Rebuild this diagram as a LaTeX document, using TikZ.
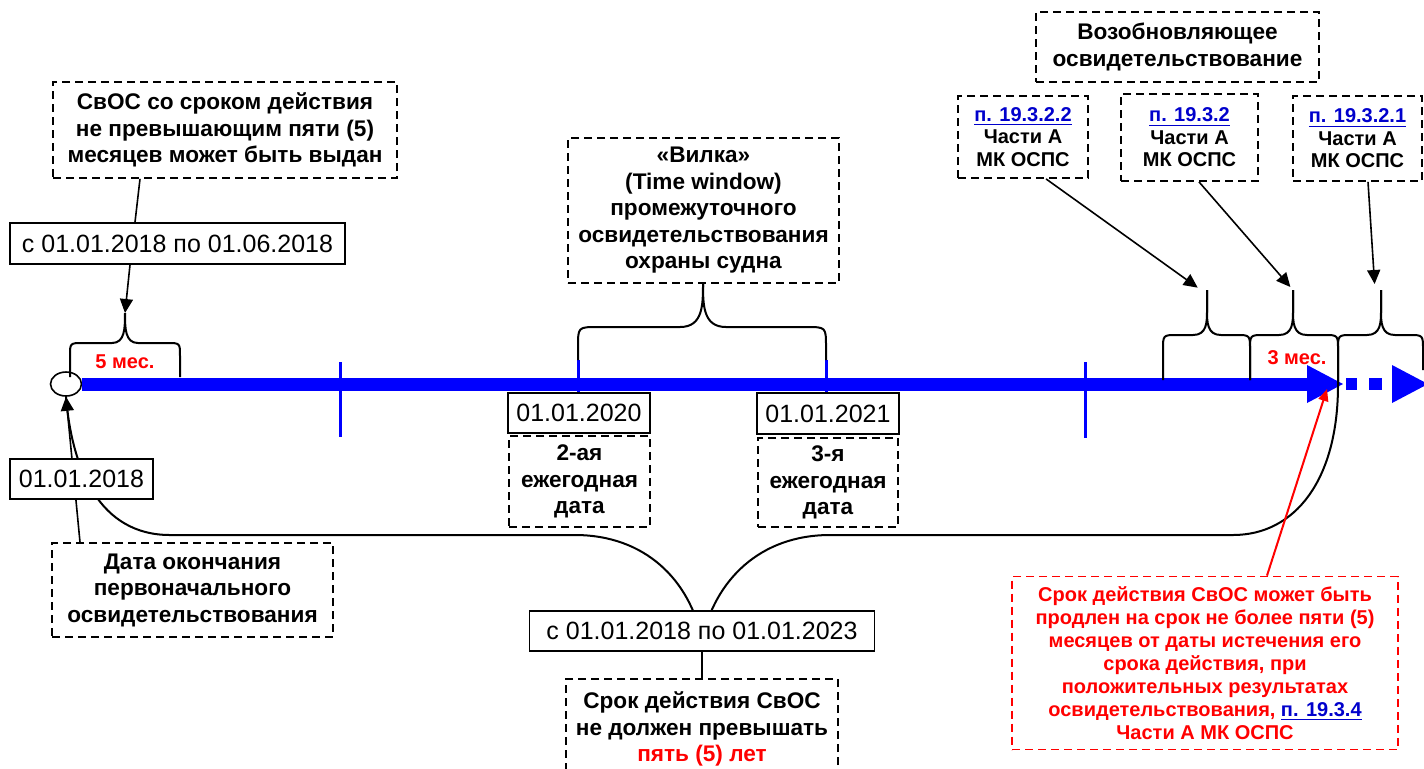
\documentclass[tikz,border=0pt]{standalone}
\usepackage{fontspec}
\setmainfont{Liberation Sans}
\usetikzlibrary{arrows.meta,backgrounds,shapes.geometric}
\definecolor{linkblue}{RGB}{0,0,204}

\begin{document}
\begin{tikzpicture}[
    x=0.5pt, y=-0.5pt,
    datebox/.style={draw, line width=0.8pt, fill=white, inner sep=0pt,
        font=\fontsize{12.5}{14}\selectfont},
    notebox/.style={draw, dash pattern=on 4pt off 2.5pt, line width=0.9pt,
        fill=white, align=center, inner sep=0pt,
        font=\bfseries\fontsize{11.3}{13.25}\selectfont},
    refbox/.style={notebox, font=\bfseries\fontsize{10}{11.25}\selectfont},
    pointer/.style={line width=0.8pt, -{Triangle[length=7pt,width=6.5pt]}},
    brace line/.style={line width=1pt},
    timeline/.style={blue, line width=6.5pt},
    axistick/.style={blue, line width=1.5pt},
    monthlabel/.style={red, font=\bfseries\fontsize{10}{12}\selectfont}
]
    \useasboundingbox (0,0) rectangle (1424,768);

    % timeline
    \node[draw, ellipse, line width=0.8pt, fill=white, minimum width=15.5pt,
        minimum height=12pt, inner sep=0pt] (circ) at (66,384) {};
    \draw[timeline] (circ.east) -- (1312,384);
    \fill[blue] (1307,365) -- (1343,384) -- (1307,403) -- cycle;
    \fill[blue] (1346,378) rectangle (1357,390);
    \fill[blue] (1369,378) rectangle (1382,390);
    \fill[blue] (1392,365) -- (1428,384) -- (1392,403) -- cycle;
    \draw[axistick] (340,362) -- (340,437);
    \draw[axistick] (1085,362) -- (1085,438);
    \draw[axistick] (578,360) -- (578,393);
    \draw[axistick] (826,360) -- (826,393);

    \coordinate (tip5) at (125,313);
    \coordinate (tipA) at (1207,290);
    \coordinate (tipB) at (1293,290);
    \coordinate (tipC) at (1381,290);
    \coordinate (tipT) at (702,640);
    \coordinate (endtip) at (1327,389);

    % braces
    \draw[brace line] (70,377) -- (70,356) .. controls (70,343) .. (83,343)
        -- (112,343) .. controls (125,343) and (125,328) .. (tip5);
    \draw[brace line] (180,377) -- (180,356) .. controls (180,343) .. (167,343)
        -- (138,343) .. controls (125,343) and (125,328) .. (tip5);

    \draw[brace line] (578,360) -- (578,347) .. controls (578,327) .. (598,327)
        -- (680,327) .. controls (703,327) and (703,305) .. (703,283);
    \draw[brace line] (826,360) -- (826,347) .. controls (826,327) .. (806,327)
        -- (726,327) .. controls (703,327) and (703,305) .. (703,283);

    \draw[brace line] (1163,380) -- (1163,350) .. controls (1163,335) .. (1177,335)
        -- (1193,335) .. controls (1207,335) and (1207,322) .. (1207,310) -- (tipA);
    \draw[brace line] (1250,380) -- (1250,350) .. controls (1250,335) .. (1236,335)
        -- (1221,335) .. controls (1207,335) and (1207,322) .. (1207,310) -- (tipA);
    \draw[brace line] (1250,380) -- (1250,350) .. controls (1250,335) .. (1264,335)
        -- (1279,335) .. controls (1293,335) and (1293,322) .. (1293,310) -- (tipB);
    \draw[brace line] (1338,385) -- (1338,350) .. controls (1338,335) .. (1324,335)
        -- (1307,335) .. controls (1293,335) and (1293,322) .. (1293,310) -- (tipB);
    \draw[brace line] (1338,385) -- (1338,350) .. controls (1338,335) .. (1352,335)
        -- (1367,335) .. controls (1381,335) and (1381,322) .. (1381,310) -- (tipC);
    \draw[brace line] (1423,370) -- (1423,350) .. controls (1423,335) .. (1409,335)
        -- (1395,335) .. controls (1381,335) and (1381,322) .. (1381,310) -- (tipC);

    \draw[brace line] (circ.south) .. controls (72,470) and (100,535) .. (170,535)
        -- (575,535) .. controls (645,535) and (690,580) .. (tipT);
    \draw[brace line] (tipT) .. controls (715,580) and (760,535) .. (830,535)
        -- (1233,535) .. controls (1295,535) and (1338,480) .. (1338,385);

    \node[monthlabel] (m5) at (125,362) {5 мес.};
    \node[monthlabel] (m3) at (1297,358) {3 мес.};

    % boxes
    \node[notebox, minimum width=172pt, minimum height=48pt] (cert5) at (225,130)
        {СвОС со сроком действия\\не превышающим пяти (5)\\месяцев может быть выдан};
    \node[datebox, minimum width=167.5pt, minimum height=20.5pt] (per5) at (177.5,243.5)
        {с 01.01.2018 по 01.06.2018};
    \node[datebox, minimum width=71.5pt, minimum height=20pt] (start) at (81.5,479)
        {01.01.2018};
    \node[notebox, minimum width=140.5pt, minimum height=47pt] (initend) at (192.5,590)
        {Дата окончания\\первоначального\\освидетельствования};
    \node[notebox, minimum width=135.5pt, minimum height=72.5pt] (window) at (703.5,210.5)
        {«Вилка»\\(Time window)\\промежуточного\\освидетельствования\\охраны судна};
    \node[datebox, minimum width=71pt, minimum height=20pt] (d2020) at (579,413)
        {01.01.2020};
    \node[notebox, minimum width=70.5pt, minimum height=45.5pt] (ann2) at (579.5,481.5)
        {2-ая\\ежегодная\\дата};
    \node[datebox, minimum width=71pt, minimum height=20.5pt] (d2021) at (828,413.5)
        {01.01.2021};
    \node[notebox, minimum width=70pt, minimum height=44.5pt] (ann3) at (828,482.5)
        {3-я\\ежегодная\\дата};
    \node[datebox, minimum width=172.5pt, minimum height=20pt] (per23) at (702,631)
        {с 01.01.2018 по 01.01.2023};
    \node[notebox, minimum width=136pt, minimum height=50pt] (limit5) at (702,729)
        {Срок действия СвОС\\не должен превышать\\{\color{red}пять (5) лет}};
    \node[notebox, minimum width=141.5pt, minimum height=35pt] (renewal) at (1177.5,47)
        {Возобновляющее\\освидетельствование};
    \node[refbox, minimum width=65pt, minimum height=41pt] (ref1) at (1023,137)
        {{\color{linkblue}\underline{п. 19.3.2.2}}\\Части А\\МК ОСПС};
    \node[refbox, minimum width=68.5pt, minimum height=43.5pt] (ref2) at (1189.5,137.5)
        {{\color{linkblue}\underline{п. 19.3.2}}\\Части А\\МК ОСПС};
    \node[refbox, minimum width=64.5pt, minimum height=42.5pt] (ref3) at (1357.5,138.5)
        {{\color{linkblue}\underline{п. 19.3.2.1}}\\Части А\\МК ОСПС};
    \node[notebox, draw=red, text=red, minimum width=193pt, minimum height=86.5pt,
        font=\bfseries\fontsize{10}{11.5}\selectfont] (extend) at (1205,663)
        {Срок действия СвОС может быть\\продлен на срок не более пяти (5)\\месяцев от даты истечения его\\срока действия, при\\положительных результатах\\освидетельствования, {\color{linkblue}\underline{п. 19.3.4}}\\Части А МК ОСПС};

    % connectors
    \draw[line width=0.8pt] ([xshift=-42.5pt]cert5.south) -- ([xshift=-21.25pt]per5.north);
    \draw[pointer] ([xshift=-23.75pt]per5.south) -- (tip5);
    \begin{pgfonlayer}{background}
        \draw[pointer] ([xshift=-56.25pt]initend.north) -- (circ.south);
    \end{pgfonlayer}
    \draw[line width=0.8pt] (per23.south) -- (limit5.north);
    \draw[pointer, shorten >=2pt] ([xshift=11.5pt]ref1.south) -- ([xshift=-3pt]tipA);
    \draw[pointer, shorten >=2pt] ([xshift=4.75pt]ref2.south) -- (tipB);
    \draw[pointer, shorten >=3pt] ([xshift=5.25pt]ref3.south) -- ([xshift=-3pt]tipC);
    \draw[red, line width=1pt, -{Triangle[length=6pt,width=5pt]}]
        ([xshift=31pt]extend.north) -- (endtip);
\end{tikzpicture}
\end{document}
